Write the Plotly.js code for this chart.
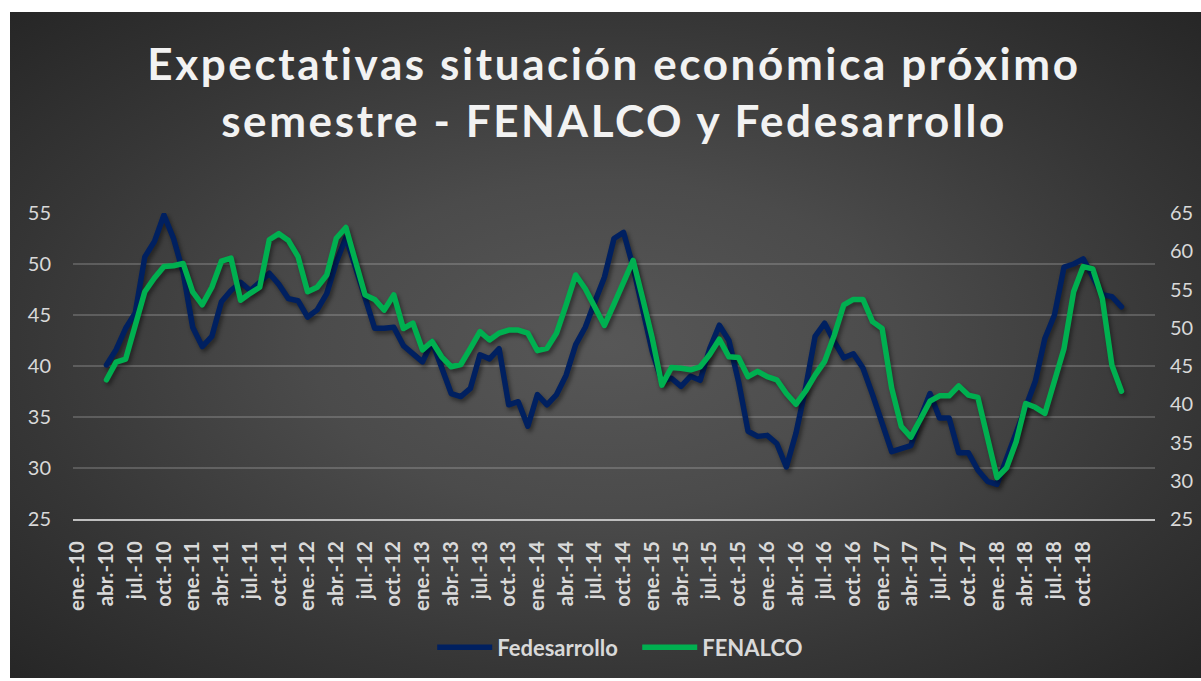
<!DOCTYPE html>
<html>
<head>
<meta charset="utf-8">
<script src="https://cdn.plot.ly/plotly-3.0.1.min.js"></script>
<style>
  html, body { margin:0; padding:0; background:#ffffff; width:1201px; height:681px; overflow:hidden; }
  #bg { position:absolute; left:10px; top:12px; width:1191px; height:666px;
        background: radial-gradient(ellipse farthest-corner at 50% 50%, #575757 0%, #4b4b4b 35%, #363636 70%, #262626 100%); }
  #chart { position:absolute; left:0; top:0; width:1201px; height:681px; }
  #chart .scatterlayer .js-line { stroke-linejoin: round; stroke-linecap: round; filter: drop-shadow(2px 3px 2px rgba(0,0,0,0.45)); }
  #chart .gtitle { letter-spacing: 2.6px; }
</style>
</head>
<body>
<div id="bg"></div>
<div id="chart"></div>
<script>
// Month categories (Spanish abbreviations), ene.-10 ... may.-19
const monthNames = ['ene.','feb.','mar.','abr.','may.','jun.','jul.','ago.','sep.','oct.','nov.','dic.'];
const categories = [];
for (let y = 10; y <= 19; y++) {
  for (let k = 0; k < 12; k++) {
    if (y === 19 && k > 4) break;
    categories.push(monthNames[k] + '-' + y);
  }
}
// Data series start at abr.-10
const seriesStart = 3;

const fedesarrollo = [
  40.1, 41.6, 43.7, 45.2, 50.7, 52.2, 54.8, 52.5, 49.2,          // abr-10 .. dic-10
  43.8, 41.9, 42.9, 46.3, 47.4, 48.2, 47.4, 48.2, 49.1, 48.0, 46.6, 46.4, // 2011
  44.8, 45.5, 47.1, 50.2, 52.6, 49.7, 46.8, 43.7, 43.7, 43.8, 42.0, 41.2, // 2012
  40.4, 42.4, 39.8, 37.3, 37.0, 37.8, 41.1, 40.7, 41.7, 36.2, 36.5, 34.1, // 2013
  37.2, 36.2, 37.2, 39.1, 42.1, 43.8, 46.3, 48.7, 52.5, 53.1, 49.7, 45.6, // 2014
  41.4, 38.5, 38.8, 38.0, 39.0, 38.6, 41.7, 44.0, 42.5, 38.5, 33.6, 33.1, // 2015
  33.2, 32.4, 30.1, 33.4, 37.8, 42.9, 44.2, 42.4, 40.8, 41.2, 39.8, 37.2, // 2016
  34.5, 31.6, 31.9, 32.2, 34.9, 37.3, 34.9, 34.9, 31.5, 31.5, 29.8, 28.7, // 2017
  28.4, 31.0, 33.4, 36.2, 38.5, 42.7, 45.0, 49.7, 50.0, 50.5, 48.6, 47.0, // 2018
  46.8, 45.8                                                              // 2019
];
const fenalco = [
  43.2, 45.5, 45.9, 50.2, 54.7, 56.5, 58.0, 58.1, 58.4,          // abr-10 .. dic-10
  54.7, 53.0, 55.3, 58.7, 59.1, 53.6, 54.5, 55.3, 61.5, 62.3, 61.4, 59.3, // 2011
  54.7, 55.3, 56.9, 61.7, 63.1, 58.8, 54.3, 53.7, 52.3, 54.3, 49.9, 50.6, // 2012
  47.1, 48.2, 46.2, 44.9, 45.2, 47.3, 49.5, 48.4, 49.3, 49.7, 49.7, 49.3, // 2013
  47.0, 47.3, 49.3, 53.0, 56.9, 55.1, 52.7, 50.3, 53.1, 56.0, 58.8, 53.8, // 2014
  48.6, 42.5, 44.8, 44.7, 44.5, 44.9, 46.5, 48.5, 46.2, 46.1, 43.6, 44.3, // 2015
  43.6, 43.2, 41.4, 40.0, 41.7, 43.8, 45.6, 49.0, 53.0, 53.7, 53.7, 50.8, // 2016
  49.9, 42.1, 37.1, 35.7, 38.2, 40.4, 41.1, 41.1, 42.4, 41.2, 40.9, 35.6, // 2017
  30.4, 31.7, 35.1, 40.1, 39.6, 38.8, 43.0, 47.3, 54.7, 58.0, 57.7, 53.8, // 2018
  45.1, 41.7                                                              // 2019
];

const xFede = categories.slice(seriesStart, seriesStart + fedesarrollo.length);
const xFenalco = categories.slice(seriesStart, seriesStart + fenalco.length);

// Tick labels every three months, ene.-10 .. oct.-18
const tickLabels = [];
for (let i = 0; i <= 105; i += 3) tickLabels.push(categories[i]);

const fontFam = 'Lato, "Open Sans", sans-serif';

const traces = [
  { x: xFede, y: fedesarrollo, name: 'Fedesarrollo', type: 'scatter', mode: 'lines',
    line: { color: '#002060', width: 5.5 }, yaxis: 'y' },
  { x: xFenalco, y: fenalco, name: 'FENALCO', type: 'scatter', mode: 'lines',
    line: { color: '#00b050', width: 5.5 }, yaxis: 'y2' }
];

const layout = {
  width: 1201, height: 681,
  paper_bgcolor: 'rgba(0,0,0,0)', plot_bgcolor: 'rgba(0,0,0,0)',
  margin: { l: 73, r: 46, t: 213, b: 162, pad: 0 },
  showlegend: true,
  title: {
    text: 'Expectativas situación económica próximo<br>semestre - FENALCO y Fedesarrollo',
    font: { family: fontFam, size: 44, color: '#f2f2f2', weight: 'bold' },
    x: 0.5, xanchor: 'center', xref: 'paper',
    y: 1 - 80 / 681, yref: 'container', yanchor: 'middle'
  },
  xaxis: {
    type: 'category', categoryorder: 'array', categoryarray: categories,
    range: [-0.5, categories.length - 0.5],
    tickmode: 'array', tickvals: tickLabels, ticktext: tickLabels,
    tickangle: -90, ticks: '', ticklabelstandoff: 12,
    tickfont: { family: fontFam, size: 20.5, color: '#d9d9d9', weight: 'bold' },
    showgrid: false, zeroline: false,
    showline: true, linecolor: '#bfbfbf', linewidth: 2,
    fixedrange: true
  },
  yaxis: {
    range: [25, 55], dtick: 5, tick0: 25,
    showgrid: true, gridcolor: 'rgba(217,217,217,0.22)', gridwidth: 1.2,
    zeroline: false, showline: false, ticks: '',
    ticklabelstandoff: 21,
    tickfont: { family: fontFam, size: 20, color: '#d9d9d9' }
  },
  yaxis2: {
    range: [25, 65], dtick: 5, tick0: 25, overlaying: 'y', side: 'right',
    showgrid: false, zeroline: false, showline: false, ticks: '',
    ticklabelstandoff: 14,
    tickfont: { family: fontFam, size: 20, color: '#d9d9d9' }
  },
  legend: {
    orientation: 'h', x: 0.332, xanchor: 'left', y: -0.42, yanchor: 'middle',
    font: { family: fontFam, size: 22, color: '#d9d9d9', weight: 'bold' },
    itemwidth: 55, entrywidth: 135, entrywidthmode: 'pixels',
    bgcolor: 'rgba(0,0,0,0)', traceorder: 'normal'
  }
};

Plotly.newPlot('chart', traces, layout, { staticPlot: true, displayModeBar: false });
</script>
</body>
</html>
